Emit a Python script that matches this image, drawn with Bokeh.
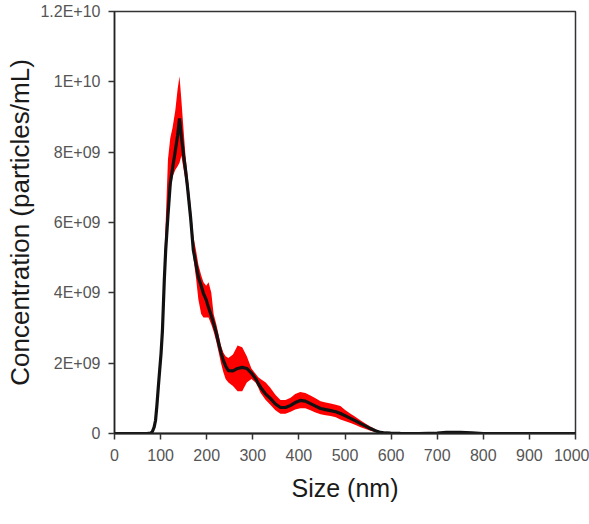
from bokeh.plotting import figure
from bokeh.models import Range1d, FixedTicker, ColumnDataSource
from bokeh.embed import file_html
from bokeh.resources import INLINE

# Particle size distribution: mean concentration with a +/- SD envelope (values in 1E9 particles/mL)
size_nm = [0, 70, 78, 82, 86, 89, 92, 95, 98, 101, 104, 108, 111, 116, 121, 126, 132, 137, 141,
           145, 150, 154, 158, 165, 171, 177, 182, 188, 193, 199, 204, 210, 215, 221, 226, 231,
           236, 241, 247, 257, 267, 277, 287, 297, 306, 312, 317, 328, 338, 349, 360, 371, 382,
           392, 403, 414, 425, 436, 447, 458, 469, 480, 490, 501, 512, 523, 534, 545, 555, 566,
           577, 588, 599, 620, 660, 700, 720, 750, 775, 800, 850, 1000]

mean_e9 = [0, 0, 0.01, 0.05, 0.18, 0.37, 0.8, 1.31, 1.8, 2.28, 2.93, 4.35, 5.2, 6.2, 7.11, 7.55,
           8.05, 8.48, 8.96, 8.45, 7.9, 7.5, 7.05, 6.15, 5.21, 4.8, 4.44, 4.2, 3.98, 3.8, 3.58,
           3.35, 3.13, 2.85, 2.56, 2.3, 2.08, 1.92, 1.79, 1.78, 1.85, 1.88, 1.85, 1.72, 1.56,
           1.42, 1.31, 1.12, 1.0, 0.84, 0.74, 0.74, 0.8, 0.88, 0.94, 0.92, 0.85, 0.78, 0.71,
           0.68, 0.65, 0.62, 0.57, 0.5, 0.43, 0.36, 0.28, 0.21, 0.14, 0.08, 0.03, 0.015, 0.01,
           0.005, 0, 0.01, 0.03, 0.035, 0.02, 0, 0, 0]

upper_e9 = [0, 0, 0.01, 0.06, 0.2, 0.4, 0.85, 1.4, 1.95, 2.5, 3.2, 5.0, 6.0, 7.8, 8.4, 8.7,
            9.2, 9.8, 10.16, 9.5, 8.6, 7.9, 7.4, 6.5, 5.6, 5.2, 4.8, 4.5, 4.3, 4.2, 4.3, 4.0,
            3.4, 3.1, 2.8, 2.5, 2.3, 2.2, 2.15, 2.25, 2.5, 2.45, 2.2, 1.85, 1.7, 1.6, 1.55,
            1.45, 1.3, 1.1, 0.95, 0.95, 1.02, 1.12, 1.18, 1.15, 1.08, 1.0, 0.92, 0.88, 0.85,
            0.82, 0.78, 0.66, 0.56, 0.47, 0.37, 0.28, 0.2, 0.12, 0.06, 0.03, 0.015, 0.005, 0,
            0.01, 0.03, 0.035, 0.02, 0, 0, 0]

lower_e9 = [0, 0, 0.01, 0.04, 0.16, 0.34, 0.75, 1.2, 1.65, 2.1, 2.7, 4.0, 5.0, 6.0, 6.9, 7.3,
            7.5, 7.6, 7.7, 7.9, 7.5, 7.2, 6.8, 5.9, 5.0, 4.4, 3.8, 3.4, 3.3, 3.3, 3.3, 3.1,
            2.9, 2.6, 2.3, 2.0, 1.75, 1.55, 1.45, 1.35, 1.2, 1.2, 1.45, 1.55, 1.45, 1.3, 1.15,
            0.95, 0.82, 0.66, 0.56, 0.56, 0.62, 0.68, 0.72, 0.72, 0.66, 0.6, 0.55, 0.52, 0.5,
            0.46, 0.4, 0.35, 0.3, 0.24, 0.18, 0.13, 0.08, 0.04, 0.01, 0.005, 0.005, 0.005, 0,
            0.01, 0.03, 0.035, 0.02, 0, 0, 0]

x_ticks = [0, 100, 200, 300, 400, 500, 600, 700, 800, 900, 1000]
y_ticks = [0, 2e9, 4e9, 6e9, 8e9, 1e10, 1.2e10]
y_tick_labels = ["0", "2E+09", "4E+09", "6E+09", "8E+09", "1E+10", "1.2E+10"]

scale = 1e9
src = ColumnDataSource(dict(
    x=size_nm,
    mean=[v * scale for v in mean_e9],
    hi=[v * scale for v in upper_e9],
    lo=[v * scale for v in lower_e9],
))

p = figure(width=589, height=524, output_backend="svg", toolbar_location=None,
           x_range=Range1d(0, 1000), y_range=Range1d(0, 1.2e10),
           min_border_left=114, min_border_right=14, min_border_top=11, min_border_bottom=91,
           background_fill_color="white", border_fill_color="white")

p.varea(x="x", y1="lo", y2="hi", source=src, fill_color="#ff0000", fill_alpha=1.0)
p.line(x="x", y="mean", source=src, line_color="#111111", line_width=3.2)

p.grid.visible = False
p.outline_line_color = "#333333"
p.outline_line_width = 1.5

FONT = "Liberation Sans"

xa = p.xaxis[0]
xa.ticker = FixedTicker(ticks=x_ticks)
xa.axis_label = "Size (nm)"
ya = p.yaxis[0]
ya.ticker = FixedTicker(ticks=y_ticks)
ya.major_label_overrides = {t: s for t, s in zip(y_ticks, y_tick_labels)}
ya.axis_label = "Concentration (particles/mL)"

for ax in (xa, ya):
    ax.minor_tick_line_color = None
    ax.major_tick_in = 0
    ax.major_tick_out = 6
    ax.major_tick_line_color = "#333333"
    ax.major_tick_line_width = 1.5
    ax.axis_line_color = "#222222"
    ax.axis_line_width = 1.5
    ax.major_label_text_font = FONT
    ax.major_label_text_font_size = "16px"
    ax.major_label_text_color = "#555555"
    ax.axis_label_text_font = FONT
    ax.axis_label_text_font_style = "normal"
    ax.axis_label_text_color = "#1a1a1a"

xa.axis_line_width = 2
xa.major_label_standoff = 9
xa.axis_label_text_font_size = "25px"
xa.axis_label_standoff = 10
ya.major_label_standoff = 8
ya.axis_label_text_font_size = "26px"
ya.axis_label_standoff = 2

open("out.html", "w").write(file_html(p, INLINE))
